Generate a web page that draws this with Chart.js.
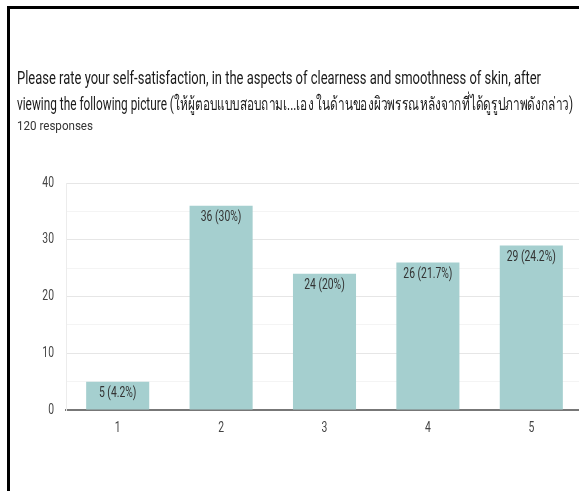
<!DOCTYPE html>
<html>
<head>
<meta charset="utf-8">
<script src="https://cdn.jsdelivr.net/npm/chart.js@4/dist/chart.umd.min.js"></script>
<style>
	html, body { margin: 0; padding: 0; background: #fff; overflow: hidden; width: 579px; height: 491px; }
	#wrap { position: absolute; left: 0; top: 0; width: 579px; height: 491px; overflow: hidden; }
	#mycanvas { position: absolute; left: 0; top: 0; }
	#frame {
		position: absolute; left: 7px; top: 6px; width: 569px; height: 485px;
		border-left: 3px solid #000; border-top: 3px solid #000; pointer-events: none;
	}
</style>
</head>
<body>
<div id="wrap">
	<canvas id="mycanvas" width="590" height="491"></canvas>
	<div id="frame"></div>
</div>
<script>
const categories = ['1', '2', '3', '4', '5'];
const counts = [5, 36, 24, 26, 29];
const percents = ['4.2%', '30%', '20%', '21.7%', '24.2%'];
const yTickLabels = [0, 10, 20, 30, 40];
const titleLines = [
	'Please rate your self-satisfaction, in the aspects of clearness and smoothness of skin, after',
	'viewing the following picture (ให้ผู้ตอบแบบสอบถามเ...เอง ในด้านของผิวพรรณหลังจากที่ได้ดูรูปภาพดังกล่าว)',
];
const responsesText = '120 responses';

const FONT = 'Roboto, "Noto Sans", "DejaVu Sans", sans-serif';
const SQUEEZE = 0.74;

// the screenshot is squeezed sideways, so all text is drawn narrow
function narrowText(ctx, text, x, y) {
	const w = ctx.measureText(text).width;
	ctx.fillText(text, x, y, w * SQUEEZE);
}

const headerPlugin = {
	id: 'header',
	afterDraw(chart) {
		const ctx = chart.ctx;
		ctx.save();
		ctx.fillStyle = '#1a1a1a';
		ctx.textAlign = 'left';
		ctx.textBaseline = 'alphabetic';
		ctx.font = '18px ' + FONT;
		ctx.fillText(titleLines[0], 17, 84, 524);
		ctx.fillText(titleLines[1], 17, 110, 556);
		ctx.fillStyle = '#333';
		ctx.font = '13px ' + FONT;
		ctx.fillText(responsesText, 17, 130, 76);
		ctx.restore();
	},
};

// tick labels drawn by hand (narrow), placed with the chart's own scales
const tickLabelPlugin = {
	id: 'tickLabels',
	afterDraw(chart) {
		const ctx = chart.ctx;
		const x = chart.scales.x;
		const y = chart.scales.y;
		ctx.save();
		ctx.fillStyle = '#444';
		ctx.font = '14px ' + FONT;
		ctx.textBaseline = 'middle';
		ctx.textAlign = 'right';
		yTickLabels.forEach((v) => {
			narrowText(ctx, String(v), chart.chartArea.left - 12, y.getPixelForValue(v));
		});
		ctx.textAlign = 'center';
		categories.forEach((c, i) => {
			narrowText(ctx, c, x.getPixelForTick(i), chart.chartArea.bottom + 18);
		});
		ctx.restore();
	},
};

const barLabelPlugin = {
	id: 'barLabels',
	afterDatasetsDraw(chart) {
		const ctx = chart.ctx;
		const meta = chart.getDatasetMeta(0);
		ctx.save();
		ctx.fillStyle = '#333';
		ctx.font = '14px ' + FONT;
		ctx.textAlign = 'center';
		ctx.textBaseline = 'middle';
		meta.data.forEach((bar, i) => {
			narrowText(ctx, `${counts[i]} (${percents[i]})`, bar.x, bar.y + 12);
		});
		ctx.restore();
	},
};

new Chart(document.getElementById('mycanvas'), {
	type: 'bar',
	data: {
		labels: categories,
		datasets: [
			{
				data: counts,
				backgroundColor: '#a5cfcf',
				borderWidth: 0,
				categoryPercentage: 1,
				barPercentage: 0.61,
			},
		],
	},
	options: {
		responsive: false,
		animation: false,
		layout: { padding: { top: 183, right: 7, bottom: 41, left: 0 } },
		plugins: {
			legend: { display: false },
			tooltip: { enabled: false },
			title: { display: false },
		},
		scales: {
			x: {
				grid: { display: false },
				border: { display: true, color: '#777', width: 2 },
				ticks: { display: false },
				afterFit(scale) { scale.height = 40; },
			},
			y: {
				min: 0,
				max: 40,
				border: { display: true, color: '#ececec', width: 1 },
				grid: {
					drawTicks: false,
					color: (c) => (c.tick && c.tick.value % 10 === 0 ? '#e6e6e6' : '#f4f4f4'),
				},
				ticks: { display: false, stepSize: 5 },
				afterFit(scale) { scale.width = 66; },
			},
		},
	},
	plugins: [headerPlugin, tickLabelPlugin, barLabelPlugin],
});
</script>
</body>
</html>
